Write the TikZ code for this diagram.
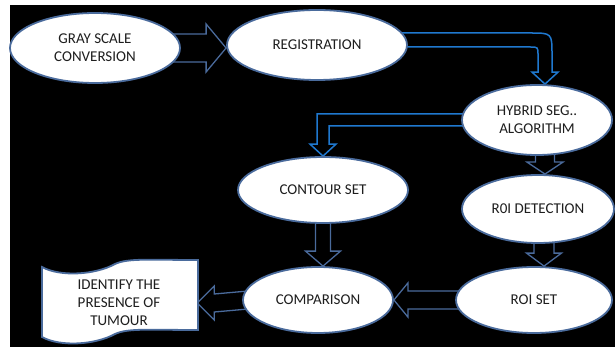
\documentclass[tikz,border=0pt]{standalone}
\usepackage{fontspec}
\setmainfont{Carlito}
\usetikzlibrary{shapes.geometric,calc}
\definecolor{ellline}{HTML}{4A6B9C}
\definecolor{arrline}{HTML}{4A6B9C}
\definecolor{bentblue}{HTML}{1F78CF}
\definecolor{txt}{HTML}{1E1E1E}
\pgfdeclarelayer{back}
\pgfdeclarelayer{arr}
\pgfsetlayers{back,arr,main}
\begin{document}
\begin{tikzpicture}[x=1pt,y=-1pt,
  proc/.style={ellipse, draw=ellline, line width=1.8pt, fill=white, text=txt,
    inner sep=0pt, font=\fontsize{15}{18}\selectfont, align=center},
  blockarr/.style={draw=arrline, line width=1.3pt, fill=black, line join=miter},
  bentarr/.style={draw=bentblue, line width=1.5pt, fill=black, line join=miter},
  docshape/.style={draw=ellline, line width=1.8pt, fill=white},
]
\useasboundingbox (0,0) rectangle (615,347);
\begin{pgfonlayer}{back}
  \fill[white] (0,0) rectangle (615,347);
  \fill[black] (10,5) rectangle (615,347);
\end{pgfonlayer}

% nodes
\node[proc, minimum width=170pt, minimum height=70pt] (gray) at (95,48) {GRAY SCALE\\CONVERSION};
\node[proc, minimum width=180pt, minimum height=70pt] (reg) at (317,45) {REGISTRATION};
\node[proc, minimum width=150pt, minimum height=70pt] (hyb) at (537,120) {HYBRID SEG..\\ALGORITHM};
\node[proc, minimum width=170pt, minimum height=66pt] (contour) at (323,190) {CONTOUR SET};
\node[proc, minimum width=152pt, minimum height=68pt] (roidet) at (538,209) {R0I DETECTION};
\node[proc, minimum width=156pt, minimum height=66pt] (roiset) at (534,300) {ROI SET};
\node[proc, minimum width=150pt, minimum height=66pt] (comp) at (318,300) {COMPARISON};
\node[rectangle, minimum width=156pt, minimum height=70pt, inner sep=0pt, text=txt,
  font=\fontsize{15}{18}\selectfont, align=center] (doc) at (119,303) {IDENTIFY THE\\PRESENCE OF\\TUMOUR};

% helper coordinates
\coordinate (e1) at (reg.west |- gray.east);
\coordinate (s2) at ($(reg.east)+(-6,-5)$);
\coordinate (h2) at ($(hyb.north)+(8,0)$);
\coordinate (k2) at (h2 |- s2);
\coordinate (s3) at ($(hyb.west)+(6,0)$);
\coordinate (k3) at (contour.north |- s3);
\coordinate (s4) at ($(hyb.south)+(8,-4)$);
\coordinate (e4) at (s4 |- roidet.north);
\coordinate (s5) at ($(roidet.south)+(6,-4)$);
\coordinate (e5) at (s5 |- roiset.north);
\coordinate (e6) at (contour.south |- comp.north);

\begin{pgfonlayer}{arr}
  % gray -> registration
  \draw[blockarr] ($(gray.east)+(-8,-14)$) -- ($(e1)+(-20,-14)$) -- ($(e1)+(-20,-24)$)
    -- (e1) -- ($(e1)+(-20,24)$) -- ($(e1)+(-20,14)$) -- ($(gray.east)+(-8,14)$) -- cycle;
  % registration -> hybrid (bent)
  \draw[bentarr] ($(s2)+(0,-7)$) -- ($(k2)+(-15,-7)$) .. controls ($(k2)+(7,-7)$) .. ($(k2)+(7,15)$)
    -- ($(h2)+(7,-12)$) -- ($(h2)+(13,-12)$) -- (h2) -- ($(h2)+(-13,-12)$) -- ($(h2)+(-7,-12)$)
    -- ($(k2)+(-7,15)$) .. controls ($(k2)+(-7,7)$) .. ($(k2)+(-15,7)$) -- ($(s2)+(0,7)$) -- cycle;
  % hybrid -> contour (bent)
  \draw[bentarr] ($(s3)+(0,-6)$) -- ($(k3)+(-6,-6)$) -- ($(contour.north)+(-6,-12)$)
    -- ($(contour.north)+(-13,-12)$) -- (contour.north) -- ($(contour.north)+(13,-12)$)
    -- ($(contour.north)+(6,-12)$) -- ($(k3)+(6,6)$) -- ($(s3)+(0,6)$) -- cycle;
  % hybrid -> roi detection
  \draw[blockarr] ($(s4)+(-9.5,0)$) -- ($(e4)+(-9.5,-12)$) -- ($(e4)+(-18,-12)$) -- (e4)
    -- ($(e4)+(18,-12)$) -- ($(e4)+(9.5,-12)$) -- ($(s4)+(9.5,0)$) -- cycle;
  % roi detection -> roi set
  \draw[blockarr] ($(s5)+(-10,0)$) -- ($(e5)+(-10,-13)$) -- ($(e5)+(-17.5,-13)$) -- (e5)
    -- ($(e5)+(17.5,-13)$) -- ($(e5)+(10,-13)$) -- ($(s5)+(10,0)$) -- cycle;
  % contour -> comparison
  \draw[blockarr] ($(contour.south)+(-7.5,-5)$) -- ($(e6)+(-7.5,-15)$) -- ($(e6)+(-17.5,-15)$) -- (e6)
    -- ($(e6)+(17.5,-15)$) -- ($(e6)+(7.5,-15)$) -- ($(contour.south)+(7.5,-5)$) -- cycle;
  % roi set -> comparison
  \draw[blockarr] ($(roiset.west)+(6,-9)$) -- ($(comp.east)+(14,-9)$) -- ($(comp.east)+(14,-17)$)
    -- (comp.east) -- ($(comp.east)+(14,17)$) -- ($(comp.east)+(14,9)$) -- ($(roiset.west)+(6,9)$) -- cycle;
  % comparison -> document
  \draw[blockarr] ($(comp.west)+(6,-9)$) -- ($(doc.east)+(17,-9)$) -- ($(doc.east)+(17,-17)$)
    -- (doc.east) -- ($(doc.east)+(17,17)$) -- ($(doc.east)+(17,9)$) -- ($(comp.west)+(6,9)$) -- cycle;
  % document outline
  \begin{scope}[shift={(doc.center)}]
    \draw[docshape] (-77,-36) .. controls (-59,-26) and (-24,-28) .. (-4,-39)
      .. controls (9,-45) and (30,-43) .. (79,-43) -- (79,27)
      .. controls (30,27) and (9,25) .. (-4,31)
      .. controls (-24,42) and (-59,44) .. (-77,34) -- cycle;
  \end{scope}
\end{pgfonlayer}
\end{tikzpicture}
\end{document}
